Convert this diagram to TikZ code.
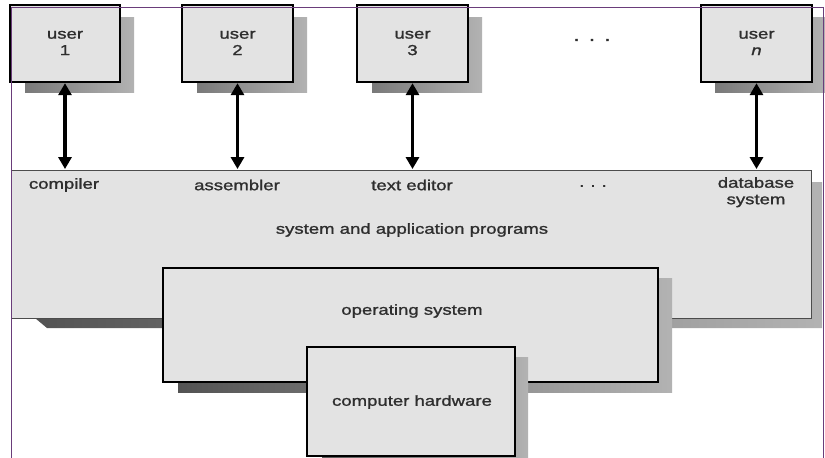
\documentclass[tikz,border=0pt]{standalone}
\usepackage{fontspec}
\setmainfont{Liberation Sans}[FakeStretch=1.28,FakeBold=1.3]
\usetikzlibrary{arrows.meta}
\definecolor{boxfill}{HTML}{E3E3E3}
\definecolor{txt}{HTML}{2E2E2E}
\definecolor{frame}{HTML}{6A3D7A}
\tikzset{
  box/.style={draw=black, line width=1.4pt, fill=boxfill, inner sep=0pt},
  ubox/.style={box, minimum width=111pt, minimum height=77pt},
  lbl/.style={text=txt, font=\fontsize{14.5}{16.5}\selectfont, align=center, inner sep=0pt},
  dshadow/.style={left color=#1, right color=gray!60},
  biarrow/.style={line width=3.4pt, {Triangle[length=12pt,width=13pt]}-{Triangle[length=12pt,width=13pt]}, shorten <=0.5pt, shorten >=0.5pt},
}
\begin{document}
\begin{tikzpicture}[x=1pt,y=-1pt]
\useasboundingbox (0,0) rectangle (825,458);
\fill[white] (0,0) rectangle (825,458);
% system and application programs
\shade[dshadow=gray!65!black] (35,318) -- (47,328) -- (822,328) -- (822,182) -- (811,182) -- (811,318) -- cycle;
\node[draw=black!70, line width=0.9pt, fill=boxfill, minimum width=800pt, minimum height=148pt, inner sep=0pt] (sys) at (411,244) {};
% users
\shade[dshadow=gray!95!black] (25,17) rectangle (134,92);
\shade[dshadow=gray!95!black] (197,17) rectangle (307,92);
\shade[dshadow=gray!95!black] (372,17) rectangle (482,92);
\shade[dshadow=gray!95!black] (715,17) rectangle (825,92);
\node[ubox, minimum width=110pt] (u1) at (65,43.5) {};
\node[ubox] (u2) at (237.5,43.5) {};
\node[ubox] (u3) at (412.5,43.5) {};
\node[ubox] (un) at (756.5,43.5) {};
\node[lbl] (t1) at (65,43) {user\\1};
\node[lbl] (t2) at (237.5,43) {user\\2};
\node[lbl] (t3) at (412.5,43) {user\\3};
\node[lbl] (tn) at (756.5,43) {user\\\textit{n}};
\node[lbl, font=\fontsize{18}{18}\selectfont] (udots) at (592,40) {.\hspace{9pt}.\hspace{9pt}.};
% operating system
\shade[dshadow=gray!65!black] (178,278) rectangle (672,392);
\node[box, minimum width=495pt, minimum height=114pt] (os) at (410.5,325) {};
% hardware
\shade[dshadow=gray!70!black] (322,357) rectangle (528,470);
\node[box, minimum width=208pt, minimum height=109pt] (hw) at (411,401.5) {};
% arrows
\draw[biarrow] (u1.south) -- (u1.south |- sys.north);
\draw[biarrow] (u2.south) -- (u2.south |- sys.north);
\draw[biarrow] (u3.south) -- (u3.south |- sys.north);
\draw[biarrow] (un.south) -- (un.south |- sys.north);
% labels
\node[lbl] (lc) at (64,185) {compiler};
\node[lbl] (la) at (237,185) {assembler};
\node[lbl] (lt) at (412,185) {text editor};
\node[lbl] (ld) at (593,186) {.\hspace{6pt}.\hspace{6pt}.};
\node[lbl, anchor=north] (ldb) at (756,177) {database\\system};
\node[lbl] (lsys) at (412,230) {system and application programs};
\node[lbl] (los) at (412,311) {operating system};
\node[lbl] (lhw) at (412,402) {computer hardware};
% frame
\draw[frame, line width=0.9pt] (11,7) -- (823,7);
\draw[frame, line width=0.9pt] (11,7) -- (11,470);
\draw[frame, line width=0.9pt] (823,7) -- (823,470);
\end{tikzpicture}
\end{document}
